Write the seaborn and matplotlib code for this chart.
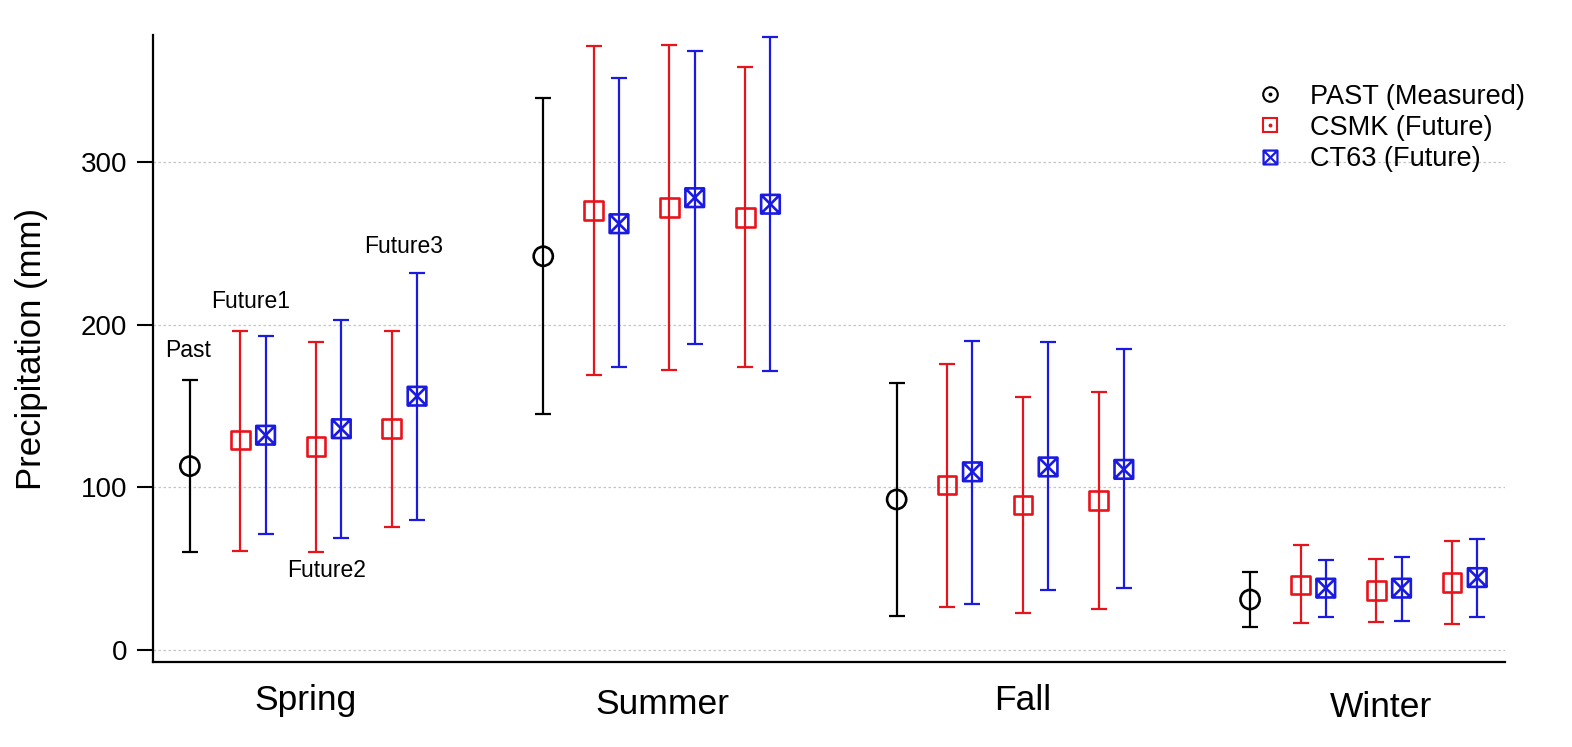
import numpy as np
import pandas as pd
import matplotlib
matplotlib.use("Agg")
import matplotlib.pyplot as plt
from matplotlib.path import Path
from matplotlib.lines import Line2D
import seaborn as sns

# ---------------- data ----------------
seasons = ["Spring", "Summer", "Fall", "Winter"]
periods = ["Future1", "Future2", "Future3"]

past_mean = [113, 242, 92.5, 31]
past_low = [60, 145, 21, 14]
past_high = [166, 339, 164, 48]

csmk_mean = [[129, 125, 136], [270, 272, 266], [101.5, 89, 92], [40, 36.5, 41.5]]
csmk_low = [[61, 60, 75.5], [169, 172, 174], [26.5, 22.5, 25], [16.5, 17, 16]]
csmk_high = [[196, 189, 196], [371, 372, 358.5], [176, 155.5, 158.5], [64.5, 56, 67]]

ct63_mean = [[132, 136, 156], [262, 278, 274], [109.5, 112.5, 111], [38, 38, 44.5]]
ct63_low = [[71, 69, 80], [174, 188, 171.5], [28.5, 37, 38], [20, 18, 20.5]]
ct63_high = [[193, 203, 232], [351.5, 368, 377], [190, 189, 185], [55.5, 57, 68.5]]

legend_labels = ["PAST (Measured)", "CSMK (Future)", "CT63 (Future)"]
annotations = ["Past", "Future1", "Future2", "Future3"]
ytick_vals = [0, 100, 200, 300]

# ---------------- style ----------------
sns.set_style("ticks")
plt.rcParams["font.family"] = ["Liberation Sans", "DejaVu Sans"]
for k in ["text.color", "axes.labelcolor", "xtick.color", "ytick.color", "axes.edgecolor"]:
    plt.rcParams[k] = "black"

C_PAST = "#000000"
C_CSMK = "#e8141c"
C_CT63 = "#1a1ae0"

# positions (layout)
group_step = 14
past_off = 0
csmk_off = [2, 5, 8]
ct63_off = [3, 6, 9]

rows = []
for g, s in enumerate(seasons):
    base = g * group_step
    rows.append(dict(season=s, source="past", x=base + past_off,
                     mean=past_mean[g], low=past_low[g], high=past_high[g]))
    for k in range(3):
        rows.append(dict(season=s, source="csmk", x=base + csmk_off[k],
                         mean=csmk_mean[g][k], low=csmk_low[g][k], high=csmk_high[g][k]))
        rows.append(dict(season=s, source="ct63", x=base + ct63_off[k],
                         mean=ct63_mean[g][k], low=ct63_low[g][k], high=ct63_high[g][k]))
df = pd.DataFrame(rows)

fig = plt.figure(figsize=(15.72, 7.47), dpi=100)
ax = fig.add_axes([153 / 1572, 1 - 662 / 747, (1505 - 153) / 1572, (662 - 35) / 747])

# gridlines
for v in ytick_vals:
    ax.axhline(v, color="#c4c4c4", lw=0.9, ls=(0, (2, 2)), zorder=0)

colors = {"past": C_PAST, "csmk": C_CSMK, "ct63": C_CT63}

# error bars
for src, col in colors.items():
    d = df[df.source == src]
    ax.errorbar(d.x, d["mean"], yerr=[d["mean"] - d.low, d.high - d["mean"]],
                fmt="none", ecolor=col, elinewidth=1.6, capsize=5.8, capthick=1.6,
                zorder=2)

# markers
sqx = Path([(-1, -1), (1, -1), (1, 1), (-1, 1), (-1, -1), (-1, -1), (1, 1), (-1, 1), (1, -1)],
           [Path.MOVETO, Path.LINETO, Path.LINETO, Path.LINETO, Path.CLOSEPOLY,
            Path.MOVETO, Path.LINETO, Path.MOVETO, Path.LINETO])
markers = {"past": "o", "csmk": "s", "ct63": sqx}
sizes = {"past": 190, "csmk": 180, "ct63": 180}
for src, col in colors.items():
    d = df[df.source == src]
    sns.scatterplot(x=d.x.values, y=d["mean"].values, marker=markers[src], s=sizes[src],
                    color=col, ax=ax, legend=False, zorder=3)
    coll = ax.collections[-1]
    coll.set_facecolors("none")
    coll.set_edgecolors(col)
    coll.set_linewidths(1.9)

# annotations
ann_pos = [(-0.08, 184), (2.4, 214), (5.4, 49), (8.47, 248)]
for t, (xx, yy) in zip(annotations, ann_pos):
    ax.text(xx, yy, t, ha="center", va="center", fontsize=16.5)

# axes
ax.set_xlim(-1.46, 52.1)
ax.set_ylim(-7.4, 378)
ax.set_yticks(ytick_vals)
ax.set_yticklabels([str(v) for v in ytick_vals], fontsize=20)
ax.set_xticks([])
ax.tick_params(axis="y", length=11.5, width=1.5, pad=7, direction="out")
for side in ["top", "right"]:
    ax.spines[side].set_visible(False)
for side in ["left", "bottom"]:
    ax.spines[side].set_linewidth(1.6)
ax.set_ylabel("Precipitation (mm)", fontsize=25)
ax.yaxis.set_label_coords(-0.078, 0.5)

# season labels
lab_nudge = [4.6, 4.7, 5.0, 5.2]
lab_y = [-0.062, -0.068, -0.062, -0.072]
for g, s in enumerate(seasons):
    ax.text(g * group_step + lab_nudge[g], lab_y[g], s, transform=ax.get_xaxis_transform(),
            ha="center", va="center", fontsize=25.5)

# legend
h_past = (Line2D([], [], ls="", marker="o", mfc="none", mec=C_PAST, ms=10.5, mew=1.5),
          Line2D([], [], ls="", marker="o", color=C_PAST, ms=1.8))
h_csmk = (Line2D([], [], ls="", marker="s", mfc="none", mec=C_CSMK, ms=10, mew=1.5),
          Line2D([], [], ls="", marker="o", color=C_CSMK, ms=1.8))
h_ct63 = (Line2D([], [], ls="", marker=sqx, mfc="none", mec=C_CT63, ms=10, mew=1.6),)
leg = ax.legend([h_past, h_csmk, h_ct63], legend_labels, loc="upper left",
                bbox_to_anchor=(1250 / 1572, 1 - 70 / 747), bbox_transform=fig.transFigure,
                frameon=False, fontsize=19.5, borderpad=0, handlelength=0.5,
                handletextpad=1.2, labelspacing=0.2)

fig.savefig("out.png", dpi=100)
